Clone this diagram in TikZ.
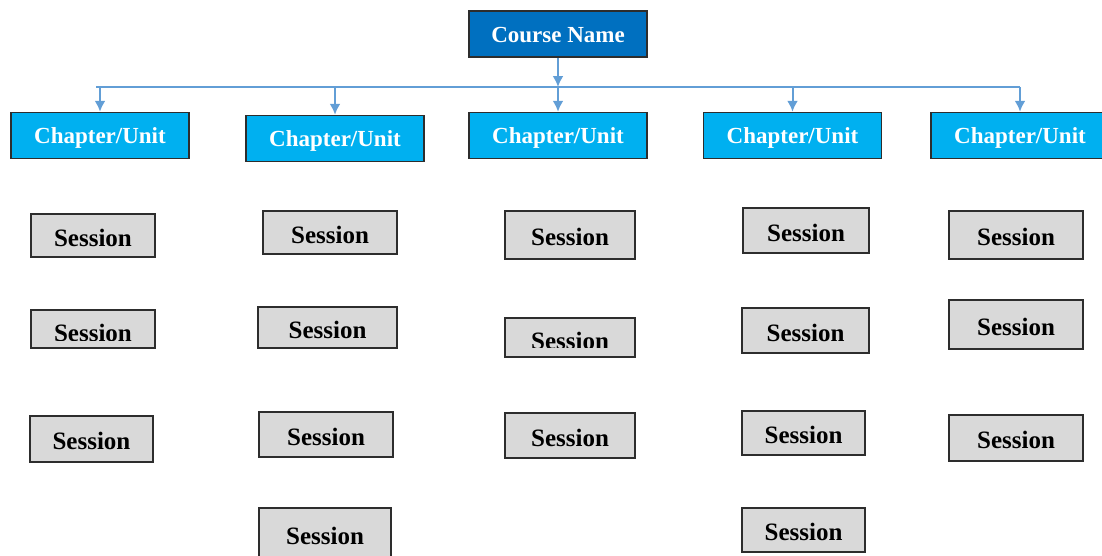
\documentclass[tikz,border=0pt]{standalone}
\usepackage{fontspec}
\setmainfont{Liberation Serif}
\usetikzlibrary{arrows,arrows.meta,shapes}
\definecolor{coursebl}{RGB}{0,112,192}
\definecolor{chapbl}{RGB}{0,176,240}
\definecolor{linebl}{RGB}{98,158,214}
\definecolor{sessgr}{RGB}{217,217,217}
\definecolor{boxbd}{RGB}{45,45,45}
\tikzstyle{course}=[draw=boxbd,line width=1.5pt,fill=coursebl,text=white,font=\bfseries\fontsize{23}{26}\selectfont,minimum width=178pt,minimum height=46pt,inner sep=0pt,text height=21pt,text depth=5pt]
\tikzstyle{chapter}=[course,fill=chapbl]
\tikzstyle{session}=[draw=boxbd,line width=1.5pt,fill=sessgr,text=black,font=\bfseries\fontsize{25}{28}\selectfont,minimum width=130pt,minimum height=44pt,inner sep=0pt,text height=21pt,text depth=0pt]
\tikzstyle{sesstext}=[text=black,font=\bfseries\fontsize{25}{28}\selectfont,inner sep=0pt]
\tikzstyle{link} = [draw=linebl,line width=2pt]

\begin{document}
\begin{tikzpicture}[x=1pt,y=-1pt]
        \tikzset{arrow/.style = {link,-{Latex[length=11pt,width=11pt]}}}
        \useasboundingbox (0,0) rectangle (1102,555);
        \clip (0,0) rectangle (1102,555);
        % course and chapters
        \node[course] (course) at (558,34) {Course Name};
        \node[chapter] (ch1) at (100,135.5) {Chapter/Unit};
        \node[chapter] (ch2) at (335,138.5) {Chapter/Unit};
        \node[chapter] (ch3) at (558,135.5) {Chapter/Unit};
        \node[chapter] (ch4) at (792.5,135.5) {Chapter/Unit};
        \node[chapter] (ch5) at (1020,135.5) {Chapter/Unit};
        \coordinate (busL) at (96,87);
        \coordinate (busR) at (1020,87);
        \draw[link] (busL) -- (busR);
        \draw[arrow] (course) -- (course |- busL);
        \foreach \i in {1,...,5}
          \draw[arrow] (ch\i |- busL) -- (ch\i);
        % sessions, column 1
        \node[session,minimum width=124pt,minimum height=43pt] (s11) at (93,235.5) {Session};
        \node[session,minimum width=124pt,minimum height=38pt] (s12) at (93,329) {};
        \begin{scope}
          \clip (s12.north west) rectangle ([yshift=8pt]s12.south east);
          \node[sesstext] (s12t) at ([yshift=-4pt]s12.center) {Session};
        \end{scope}
        \node[session,minimum width=123pt,minimum height=46pt] (s13) at (91.5,439) {Session};
        % column 2
        \node[session,minimum width=134pt,minimum height=43pt] (s21) at (330,232.5) {Session};
        \node[session,minimum width=139pt,minimum height=41pt] (s22) at (327.5,327.5) {Session};
        \node[session,minimum width=134pt,minimum height=45pt] (s23) at (326,434.5) {Session};
        \node[session,minimum width=132pt,minimum height=52pt] (s24) at (325,534) {Session};
        % column 3
        \node[session,minimum height=48pt] (s31) at (570,235) {Session};
        \node[session,minimum height=39pt] (s32) at (570,337.5) {};
        \begin{scope}
          \clip (s32.north west) rectangle ([yshift=10pt]s32.south east);
          \node[sesstext] (s32t) at ([yshift=-3pt]s32.center) {Session};
        \end{scope}
        \node[session,minimum height=45pt] (s33) at (570,435.5) {Session};
        % column 4
        \node[session,minimum width=126pt,minimum height=45pt] (s41) at (806,230.5) {Session};
        \node[session,minimum width=127pt,minimum height=45pt] (s42) at (805.5,330.5) {Session};
        \node[session,minimum width=123pt,minimum height=44pt] (s43) at (803.5,433) {Session};
        \node[session,minimum width=123pt,minimum height=44pt] (s44) at (803.5,530) {Session};
        % column 5
        \node[session,minimum width=134pt,minimum height=48pt] (s51) at (1016,235) {Session};
        \node[session,minimum width=134pt,minimum height=49pt] (s52) at (1016,324.5) {Session};
        \node[session,minimum width=134pt,minimum height=46pt] (s53) at (1016,438) {Session};
      \end{tikzpicture}
\end{document}
